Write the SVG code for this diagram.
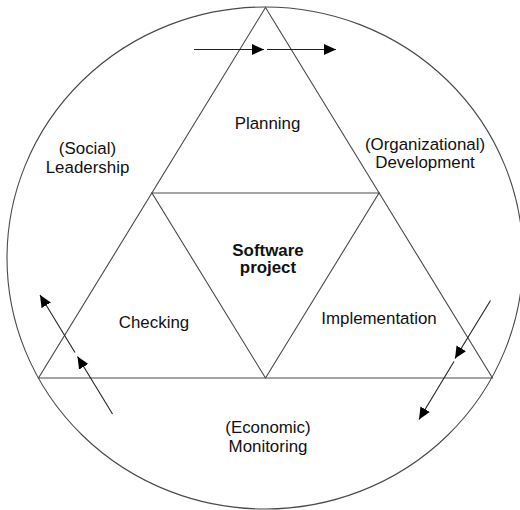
<svg xmlns="http://www.w3.org/2000/svg" width="520" height="510" viewBox="0 0 520 510">
<style>
.ln{fill:none;stroke:#4a4a4a;stroke-width:1.1}
.ar{fill:none;stroke:#222;stroke-width:1.1}
text{font-family:"Liberation Sans",Arial,Helvetica,sans-serif;font-size:16.9px;fill:#111;text-anchor:middle}
.b{font-weight:bold}
</style>
<defs>
<marker id="ah" markerUnits="userSpaceOnUse" markerWidth="14" markerHeight="12" refX="12" refY="5.5" orient="auto">
<path d="M0,0 L12,5.5 L0,11 Z" fill="#000"/>
</marker>
</defs>
<rect width="520" height="510" fill="#fff"/>
<g id="frame">
<ellipse class="ln" cx="265" cy="258" rx="258" ry="251"/>
<polygon class="ln" points="265.5,7.5 38.5,378 492.5,378"/>
</g>
<g id="center">
<polygon class="ln" points="152,193 379,193 265.5,378"/>
<text class="b" x="268" y="255.5">Software</text>
<text class="b" x="268" y="273">project</text>
</g>
<g id="planning"><text x="267.5" y="129">Planning</text></g>
<g id="checking"><text x="154" y="328">Checking</text></g>
<g id="implementation"><text x="379" y="324">Implementation</text></g>
<g id="leadership"><text x="87.5" y="154">(Social)</text><text x="87.5" y="172.5">Leadership</text></g>
<g id="development"><text x="425" y="149.5">(Organizational)</text><text x="425" y="168">Development</text></g>
<g id="monitoring"><text x="268" y="433">(Economic)</text><text x="268" y="451.5">Monitoring</text></g>
<g id="connectors">
<line class="ar" x1="194" y1="49.5" x2="264" y2="49.5" marker-end="url(#ah)"/>
<line class="ar" x1="267" y1="49.5" x2="336" y2="49.5" marker-end="url(#ah)"/>
<line class="ar" x1="112.5" y1="414" x2="77.5" y2="356.5" marker-end="url(#ah)"/>
<line class="ar" x1="75" y1="352.5" x2="40" y2="295" marker-end="url(#ah)"/>
<line class="ar" x1="490.5" y1="300.5" x2="455" y2="358.5" marker-end="url(#ah)"/>
<line class="ar" x1="454" y1="361.5" x2="419" y2="419.5" marker-end="url(#ah)"/>
</g>
</svg>
